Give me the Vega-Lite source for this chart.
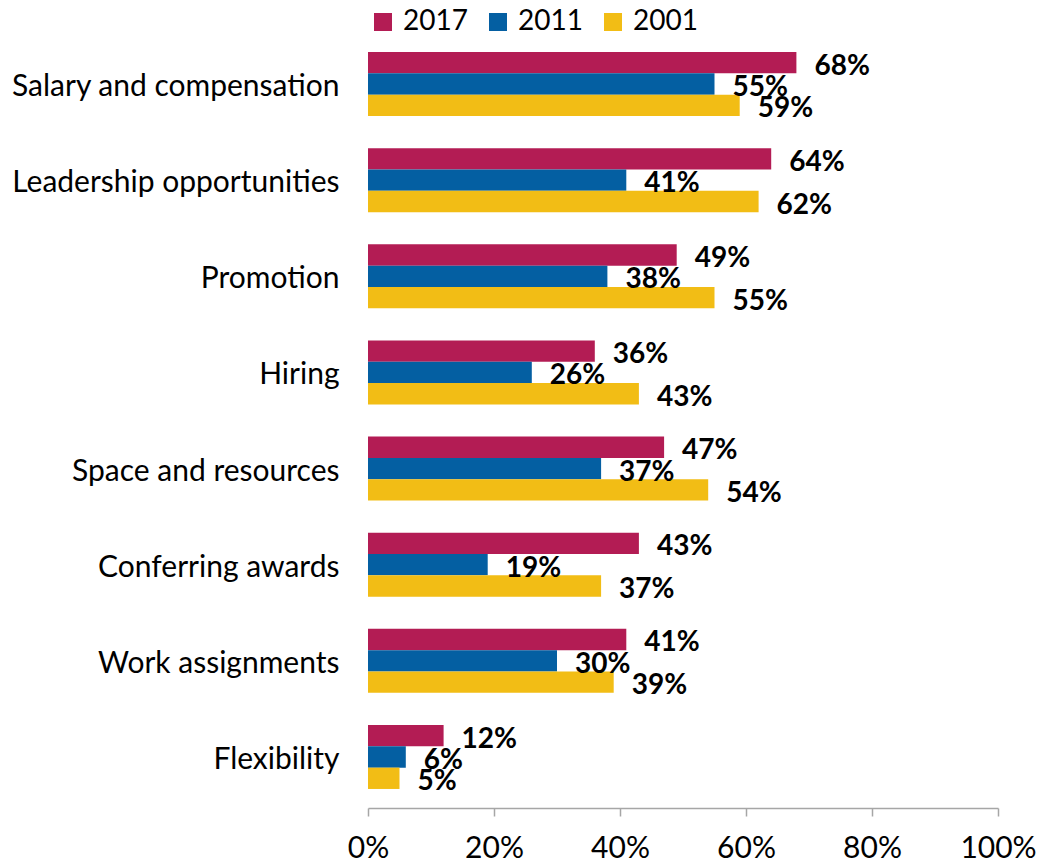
{
  "$schema": "https://vega.github.io/schema/vega-lite/v6.json",
  "autosize": {"type": "none"},
  "width": 630,
  "height": 775,
  "padding": {"left": 368, "top": 33, "right": 40, "bottom": 54},
  "background": "white",
  "config": {
    "view": {"stroke": null},
    "font": "Lato",
    "axis": {"labelFont": "Lato", "labelColor": "#000000", "grid": false}
  },
  "data": {
    "values": [
      {"category": "Salary and compensation", "year": "2017", "value": 0.68},
      {"category": "Salary and compensation", "year": "2011", "value": 0.55},
      {"category": "Salary and compensation", "year": "2001", "value": 0.59},
      {"category": "Leadership opportunities", "year": "2017", "value": 0.64},
      {"category": "Leadership opportunities", "year": "2011", "value": 0.41},
      {"category": "Leadership opportunities", "year": "2001", "value": 0.62},
      {"category": "Promotion", "year": "2017", "value": 0.49},
      {"category": "Promotion", "year": "2011", "value": 0.38},
      {"category": "Promotion", "year": "2001", "value": 0.55},
      {"category": "Hiring", "year": "2017", "value": 0.36},
      {"category": "Hiring", "year": "2011", "value": 0.26},
      {"category": "Hiring", "year": "2001", "value": 0.43},
      {"category": "Space and resources", "year": "2017", "value": 0.47},
      {"category": "Space and resources", "year": "2011", "value": 0.37},
      {"category": "Space and resources", "year": "2001", "value": 0.54},
      {"category": "Conferring awards", "year": "2017", "value": 0.43},
      {"category": "Conferring awards", "year": "2011", "value": 0.19},
      {"category": "Conferring awards", "year": "2001", "value": 0.37},
      {"category": "Work assignments", "year": "2017", "value": 0.41},
      {"category": "Work assignments", "year": "2011", "value": 0.30},
      {"category": "Work assignments", "year": "2001", "value": 0.39},
      {"category": "Flexibility", "year": "2017", "value": 0.12},
      {"category": "Flexibility", "year": "2011", "value": 0.06},
      {"category": "Flexibility", "year": "2001", "value": 0.05}
    ]
  },
  "encoding": {
    "y": {
      "field": "category",
      "type": "nominal",
      "sort": null,
      "scale": {"paddingInner": 0.334, "paddingOuter": 0.198},
      "axis": {
        "title": null,
        "domain": false,
        "ticks": false,
        "labelPadding": 29,
        "labelFontSize": 30,
        "labelOffset": 3,
        "labelLimit": 400
      }
    },
    "yOffset": {
      "field": "year",
      "type": "nominal",
      "sort": ["2017", "2011", "2001"],
      "scale": {"paddingInner": 0, "paddingOuter": 0}
    },
    "x": {
      "field": "value",
      "type": "quantitative",
      "scale": {"domain": [0, 1], "nice": false},
      "axis": {
        "title": null,
        "format": ".0%",
        "values": [0, 0.2, 0.4, 0.6, 0.8, 1],
        "domainColor": "#A6A6A6",
        "domainWidth": 1.5,
        "tickColor": "#A6A6A6",
        "tickWidth": 1.5,
        "tickSize": 8,
        "labelFontSize": 30,
        "labelPadding": 17,
        "labelFlush": false
      }
    }
  },
  "layer": [
    {
      "mark": {"type": "bar"},
      "encoding": {
        "color": {
          "field": "year",
          "type": "nominal",
          "sort": ["2017", "2011", "2001"],
          "scale": {
            "domain": ["2017", "2011", "2001"],
            "range": ["#B31C54", "#045FA2", "#F2BD15"]
          },
          "legend": {
            "title": null,
            "orient": "none",
            "legendX": 1,
            "legendY": -25,
            "direction": "horizontal",
            "symbolType": "square",
            "symbolSize": 324,
            "symbolStrokeWidth": 0,
            "symbolOpacity": 1,
            "labelFontSize": 28,
            "labelFont": "Lato",
            "labelColor": "#000000",
            "labelOffset": 6,
            "columnPadding": 16,
            "padding": 0
          }
        }
      }
    },
    {
      "mark": {
        "type": "text",
        "align": "left",
        "baseline": "middle",
        "dx": 18,
        "dy": 4,
        "fontSize": 28,
        "fontWeight": "bold",
        "font": "Lato",
        "color": "#000000"
      },
      "encoding": {
        "text": {"field": "value", "type": "quantitative", "format": ".0%"}
      }
    }
  ]
}
